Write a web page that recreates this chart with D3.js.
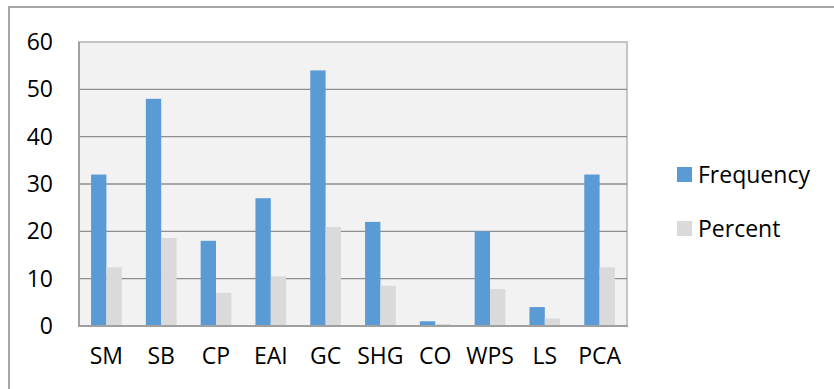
<!DOCTYPE html>
<html><head><meta charset="utf-8">
<script src="https://cdn.jsdelivr.net/npm/d3@7"></script>
<style>body{margin:0;background:#fff}svg{display:block}</style>
</head><body>
<svg id="c" width="834" height="389"></svg>
<script>
const categories = ["SM","SB","CP","EAI","GC","SHG","CO","WPS","LS","PCA"];
const frequency = [32,48,18,27,54,22,1,20,4,32];
const percent = [12.4,18.6,7.0,10.5,20.9,8.5,0.4,7.8,1.6,12.4];
const seriesNames = ["Frequency","Percent"];
const yTicks = [0,10,20,30,40,50,60];
const colors = ["#5b9bd5","#dadada"];

const svg = d3.select("#c");
const font = "'Open Sans', Lato, sans-serif";
const fs = 23;
const m = {left:79, right:627, top:42, bottom:326};

// outer frame
svg.append("path").attr("d","M9,389 L9,7 L834,7").attr("fill","none")
  .attr("stroke","#a6a6a6").attr("stroke-width",2);

const x = d3.scaleBand().domain(categories).range([m.left,m.right]).paddingInner(0.44).paddingOuter(0.22);
const xs = d3.scaleBand().domain(seriesNames).range([0,x.bandwidth()]);
const y = d3.scaleLinear().domain([0,60]).range([m.bottom,m.top]);

svg.append("rect").attr("x",m.left).attr("y",m.top).attr("width",m.right-m.left).attr("height",m.bottom-m.top)
  .attr("fill","#f2f2f2").attr("stroke","#c4c4c4").attr("stroke-width",2);

// gridlines
svg.append("g").selectAll("line").data(yTicks.filter(t=>t>0 && t<60)).join("line")
  .attr("x1",m.left).attr("x2",m.right).attr("y1",d=>y(d)).attr("y2",d=>y(d))
  .attr("stroke","#8e8e8e").attr("stroke-width",1.3);

const data = categories.map((c,i)=>({c, vals:[frequency[i],percent[i]]}));
const g = svg.append("g").selectAll("g").data(data).join("g").attr("transform",d=>`translate(${x(d.c)},0)`);
g.selectAll("rect").data(d=>d.vals.map((v,j)=>({v,s:seriesNames[j],j}))).join("rect")
  .attr("x",d=>xs(d.s)).attr("width",xs.bandwidth())
  .attr("y",d=>y(d.v)).attr("height",d=>y(0)-y(d.v)).attr("fill",d=>colors[d.j]);

// axis lines
svg.append("line").attr("x1",m.left).attr("x2",m.left).attr("y1",m.top).attr("y2",m.bottom+1)
  .attr("stroke","#a0a0a0").attr("stroke-width",2);
svg.append("line").attr("x1",m.left).attr("x2",m.right+1).attr("y1",m.bottom).attr("y2",m.bottom)
  .attr("stroke","#a0a0a0").attr("stroke-width",2);

// y labels
const yAxis = d3.axisLeft(y).tickValues(yTicks).tickSize(0).tickPadding(26);
const ya = svg.append("g").attr("transform",`translate(${m.left},0)`).call(yAxis);
ya.select(".domain").remove();
ya.selectAll("text").attr("font-family",font).attr("font-size",fs).attr("fill","#000");

// x labels
const xAxis = d3.axisBottom(x).tickSize(0).tickPadding(22);
const xa = svg.append("g").attr("transform",`translate(0,${m.bottom})`).call(xAxis);
xa.select(".domain").remove();
xa.selectAll("text").attr("font-family",font).attr("font-size",fs).attr("fill","#000");

// legend
const leg = svg.append("g").selectAll("g").data(seriesNames).join("g")
  .attr("transform",(d,i)=>`translate(677,${167+i*54})`);
leg.append("rect").attr("width",15).attr("height",15).attr("fill",(d,i)=>colors[i]);
leg.append("text").attr("x",21).attr("y",16).text(d=>d)
  .attr("font-family",font).attr("font-size",fs).attr("fill","#000");
</script>
</body></html>
